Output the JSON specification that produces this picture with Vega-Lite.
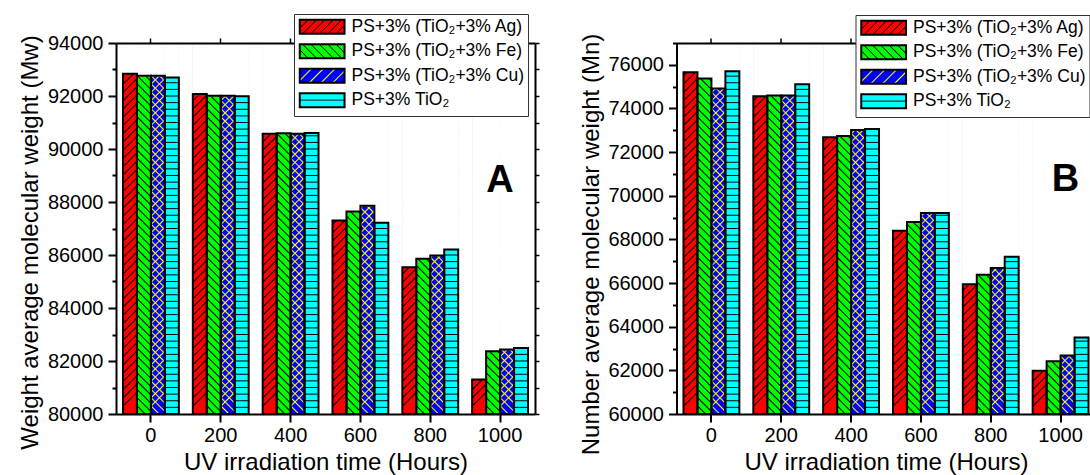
{
  "$schema": "https://vega.github.io/schema/vega-lite/v6.json",
  "background": "#ffffff",
  "padding": {"left": 18, "top": 13, "right": 0, "bottom": 0},
  "config": {
    "view": {"stroke": null},
    "font": "Liberation Sans",
    "text": {"font": "Liberation Sans"},
    "axis": {
      "grid": false, "domainColor": "#000000", "domainWidth": 2, "tickColor": "#000000", "tickWidth": 2,
      "labelColor": "#000000", "labelFont": "Liberation Sans", "labelFontSize": 20,
      "titleColor": "#000000", "titleFont": "Liberation Sans", "titleFontSize": 24, "titleFontWeight": "normal",
      "zindex": 1, "labelFlush": false, "labelOverlap": false
    }
  },
  "params": [
    {"name": "gAg", "value": {"gradient": "linear", "x1": 0, "y1": 0, "x2": 0.0377, "y2": 1, "stops": [
      {"offset":0,"color":"#000"},{"offset":0.004,"color":"#f00"},{"offset":0.0182,"color":"#f00"},
      {"offset":0.0222,"color":"#000"},{"offset":0.0262,"color":"#f00"},{"offset":0.0404,"color":"#f00"},
      {"offset":0.0444,"color":"#000"},{"offset":0.0484,"color":"#f00"},{"offset":0.0627,"color":"#f00"},
      {"offset":0.0667,"color":"#000"},{"offset":0.0707,"color":"#f00"},{"offset":0.0849,"color":"#f00"},
      {"offset":0.0889,"color":"#000"},{"offset":0.0929,"color":"#f00"},{"offset":0.1071,"color":"#f00"},
      {"offset":0.1111,"color":"#000"},{"offset":0.1151,"color":"#f00"},{"offset":0.1293,"color":"#f00"},
      {"offset":0.1333,"color":"#000"},{"offset":0.1373,"color":"#f00"},{"offset":0.1516,"color":"#f00"},
      {"offset":0.1556,"color":"#000"},{"offset":0.1596,"color":"#f00"},{"offset":0.1738,"color":"#f00"},
      {"offset":0.1778,"color":"#000"},{"offset":0.1818,"color":"#f00"},{"offset":0.196,"color":"#f00"},
      {"offset":0.2,"color":"#000"},{"offset":0.204,"color":"#f00"},{"offset":0.2182,"color":"#f00"},
      {"offset":0.2222,"color":"#000"},{"offset":0.2262,"color":"#f00"},{"offset":0.2404,"color":"#f00"},
      {"offset":0.2444,"color":"#000"},{"offset":0.2484,"color":"#f00"},{"offset":0.2627,"color":"#f00"},
      {"offset":0.2667,"color":"#000"},{"offset":0.2707,"color":"#f00"},{"offset":0.2849,"color":"#f00"},
      {"offset":0.2889,"color":"#000"},{"offset":0.2929,"color":"#f00"},{"offset":0.3071,"color":"#f00"},
      {"offset":0.3111,"color":"#000"},{"offset":0.3151,"color":"#f00"},{"offset":0.3293,"color":"#f00"},
      {"offset":0.3333,"color":"#000"},{"offset":0.3373,"color":"#f00"},{"offset":0.3516,"color":"#f00"},
      {"offset":0.3556,"color":"#000"},{"offset":0.3596,"color":"#f00"},{"offset":0.3738,"color":"#f00"},
      {"offset":0.3778,"color":"#000"},{"offset":0.3818,"color":"#f00"},{"offset":0.396,"color":"#f00"},
      {"offset":0.4,"color":"#000"},{"offset":0.404,"color":"#f00"},{"offset":0.4182,"color":"#f00"},
      {"offset":0.4222,"color":"#000"},{"offset":0.4262,"color":"#f00"},{"offset":0.4404,"color":"#f00"},
      {"offset":0.4444,"color":"#000"},{"offset":0.4484,"color":"#f00"},{"offset":0.4627,"color":"#f00"},
      {"offset":0.4667,"color":"#000"},{"offset":0.4707,"color":"#f00"},{"offset":0.4849,"color":"#f00"},
      {"offset":0.4889,"color":"#000"},{"offset":0.4929,"color":"#f00"},{"offset":0.5071,"color":"#f00"},
      {"offset":0.5111,"color":"#000"},{"offset":0.5151,"color":"#f00"},{"offset":0.5293,"color":"#f00"},
      {"offset":0.5333,"color":"#000"},{"offset":0.5373,"color":"#f00"},{"offset":0.5516,"color":"#f00"},
      {"offset":0.5556,"color":"#000"},{"offset":0.5596,"color":"#f00"},{"offset":0.5738,"color":"#f00"},
      {"offset":0.5778,"color":"#000"},{"offset":0.5818,"color":"#f00"},{"offset":0.596,"color":"#f00"},
      {"offset":0.6,"color":"#000"},{"offset":0.604,"color":"#f00"},{"offset":0.6182,"color":"#f00"},
      {"offset":0.6222,"color":"#000"},{"offset":0.6262,"color":"#f00"},{"offset":0.6404,"color":"#f00"},
      {"offset":0.6444,"color":"#000"},{"offset":0.6484,"color":"#f00"},{"offset":0.6627,"color":"#f00"},
      {"offset":0.6667,"color":"#000"},{"offset":0.6707,"color":"#f00"},{"offset":0.6849,"color":"#f00"},
      {"offset":0.6889,"color":"#000"},{"offset":0.6929,"color":"#f00"},{"offset":0.7071,"color":"#f00"},
      {"offset":0.7111,"color":"#000"},{"offset":0.7151,"color":"#f00"},{"offset":0.7293,"color":"#f00"},
      {"offset":0.7333,"color":"#000"},{"offset":0.7373,"color":"#f00"},{"offset":0.7516,"color":"#f00"},
      {"offset":0.7556,"color":"#000"},{"offset":0.7596,"color":"#f00"},{"offset":0.7738,"color":"#f00"},
      {"offset":0.7778,"color":"#000"},{"offset":0.7818,"color":"#f00"},{"offset":0.796,"color":"#f00"},
      {"offset":0.8,"color":"#000"},{"offset":0.804,"color":"#f00"},{"offset":0.8182,"color":"#f00"},
      {"offset":0.8222,"color":"#000"},{"offset":0.8262,"color":"#f00"},{"offset":0.8404,"color":"#f00"},
      {"offset":0.8444,"color":"#000"},{"offset":0.8484,"color":"#f00"},{"offset":0.8627,"color":"#f00"},
      {"offset":0.8667,"color":"#000"},{"offset":0.8707,"color":"#f00"},{"offset":0.8849,"color":"#f00"},
      {"offset":0.8889,"color":"#000"},{"offset":0.8929,"color":"#f00"},{"offset":0.9071,"color":"#f00"},
      {"offset":0.9111,"color":"#000"},{"offset":0.9151,"color":"#f00"},{"offset":0.9293,"color":"#f00"},
      {"offset":0.9333,"color":"#000"},{"offset":0.9373,"color":"#f00"},{"offset":0.9516,"color":"#f00"},
      {"offset":0.9556,"color":"#000"},{"offset":0.9596,"color":"#f00"},{"offset":0.9738,"color":"#f00"},
      {"offset":0.9778,"color":"#000"},{"offset":0.9818,"color":"#f00"},{"offset":1,"color":"#f00"}]}},
    {"name": "gFe", "value": {"gradient": "linear", "x1": 0, "y1": 1, "x2": 0.0377, "y2": 0, "stops": [
      {"offset":0,"color":"#000"},{"offset":0.004,"color":"#0f0"},{"offset":0.0182,"color":"#0f0"},
      {"offset":0.0222,"color":"#000"},{"offset":0.0262,"color":"#0f0"},{"offset":0.0404,"color":"#0f0"},
      {"offset":0.0444,"color":"#000"},{"offset":0.0484,"color":"#0f0"},{"offset":0.0627,"color":"#0f0"},
      {"offset":0.0667,"color":"#000"},{"offset":0.0707,"color":"#0f0"},{"offset":0.0849,"color":"#0f0"},
      {"offset":0.0889,"color":"#000"},{"offset":0.0929,"color":"#0f0"},{"offset":0.1071,"color":"#0f0"},
      {"offset":0.1111,"color":"#000"},{"offset":0.1151,"color":"#0f0"},{"offset":0.1293,"color":"#0f0"},
      {"offset":0.1333,"color":"#000"},{"offset":0.1373,"color":"#0f0"},{"offset":0.1516,"color":"#0f0"},
      {"offset":0.1556,"color":"#000"},{"offset":0.1596,"color":"#0f0"},{"offset":0.1738,"color":"#0f0"},
      {"offset":0.1778,"color":"#000"},{"offset":0.1818,"color":"#0f0"},{"offset":0.196,"color":"#0f0"},
      {"offset":0.2,"color":"#000"},{"offset":0.204,"color":"#0f0"},{"offset":0.2182,"color":"#0f0"},
      {"offset":0.2222,"color":"#000"},{"offset":0.2262,"color":"#0f0"},{"offset":0.2404,"color":"#0f0"},
      {"offset":0.2444,"color":"#000"},{"offset":0.2484,"color":"#0f0"},{"offset":0.2627,"color":"#0f0"},
      {"offset":0.2667,"color":"#000"},{"offset":0.2707,"color":"#0f0"},{"offset":0.2849,"color":"#0f0"},
      {"offset":0.2889,"color":"#000"},{"offset":0.2929,"color":"#0f0"},{"offset":0.3071,"color":"#0f0"},
      {"offset":0.3111,"color":"#000"},{"offset":0.3151,"color":"#0f0"},{"offset":0.3293,"color":"#0f0"},
      {"offset":0.3333,"color":"#000"},{"offset":0.3373,"color":"#0f0"},{"offset":0.3516,"color":"#0f0"},
      {"offset":0.3556,"color":"#000"},{"offset":0.3596,"color":"#0f0"},{"offset":0.3738,"color":"#0f0"},
      {"offset":0.3778,"color":"#000"},{"offset":0.3818,"color":"#0f0"},{"offset":0.396,"color":"#0f0"},
      {"offset":0.4,"color":"#000"},{"offset":0.404,"color":"#0f0"},{"offset":0.4182,"color":"#0f0"},
      {"offset":0.4222,"color":"#000"},{"offset":0.4262,"color":"#0f0"},{"offset":0.4404,"color":"#0f0"},
      {"offset":0.4444,"color":"#000"},{"offset":0.4484,"color":"#0f0"},{"offset":0.4627,"color":"#0f0"},
      {"offset":0.4667,"color":"#000"},{"offset":0.4707,"color":"#0f0"},{"offset":0.4849,"color":"#0f0"},
      {"offset":0.4889,"color":"#000"},{"offset":0.4929,"color":"#0f0"},{"offset":0.5071,"color":"#0f0"},
      {"offset":0.5111,"color":"#000"},{"offset":0.5151,"color":"#0f0"},{"offset":0.5293,"color":"#0f0"},
      {"offset":0.5333,"color":"#000"},{"offset":0.5373,"color":"#0f0"},{"offset":0.5516,"color":"#0f0"},
      {"offset":0.5556,"color":"#000"},{"offset":0.5596,"color":"#0f0"},{"offset":0.5738,"color":"#0f0"},
      {"offset":0.5778,"color":"#000"},{"offset":0.5818,"color":"#0f0"},{"offset":0.596,"color":"#0f0"},
      {"offset":0.6,"color":"#000"},{"offset":0.604,"color":"#0f0"},{"offset":0.6182,"color":"#0f0"},
      {"offset":0.6222,"color":"#000"},{"offset":0.6262,"color":"#0f0"},{"offset":0.6404,"color":"#0f0"},
      {"offset":0.6444,"color":"#000"},{"offset":0.6484,"color":"#0f0"},{"offset":0.6627,"color":"#0f0"},
      {"offset":0.6667,"color":"#000"},{"offset":0.6707,"color":"#0f0"},{"offset":0.6849,"color":"#0f0"},
      {"offset":0.6889,"color":"#000"},{"offset":0.6929,"color":"#0f0"},{"offset":0.7071,"color":"#0f0"},
      {"offset":0.7111,"color":"#000"},{"offset":0.7151,"color":"#0f0"},{"offset":0.7293,"color":"#0f0"},
      {"offset":0.7333,"color":"#000"},{"offset":0.7373,"color":"#0f0"},{"offset":0.7516,"color":"#0f0"},
      {"offset":0.7556,"color":"#000"},{"offset":0.7596,"color":"#0f0"},{"offset":0.7738,"color":"#0f0"},
      {"offset":0.7778,"color":"#000"},{"offset":0.7818,"color":"#0f0"},{"offset":0.796,"color":"#0f0"},
      {"offset":0.8,"color":"#000"},{"offset":0.804,"color":"#0f0"},{"offset":0.8182,"color":"#0f0"},
      {"offset":0.8222,"color":"#000"},{"offset":0.8262,"color":"#0f0"},{"offset":0.8404,"color":"#0f0"},
      {"offset":0.8444,"color":"#000"},{"offset":0.8484,"color":"#0f0"},{"offset":0.8627,"color":"#0f0"},
      {"offset":0.8667,"color":"#000"},{"offset":0.8707,"color":"#0f0"},{"offset":0.8849,"color":"#0f0"},
      {"offset":0.8889,"color":"#000"},{"offset":0.8929,"color":"#0f0"},{"offset":0.9071,"color":"#0f0"},
      {"offset":0.9111,"color":"#000"},{"offset":0.9151,"color":"#0f0"},{"offset":0.9293,"color":"#0f0"},
      {"offset":0.9333,"color":"#000"},{"offset":0.9373,"color":"#0f0"},{"offset":0.9516,"color":"#0f0"},
      {"offset":0.9556,"color":"#000"},{"offset":0.9596,"color":"#0f0"},{"offset":0.9738,"color":"#0f0"},
      {"offset":0.9778,"color":"#000"},{"offset":0.9818,"color":"#0f0"},{"offset":1,"color":"#0f0"}]}},
    {"name": "gCu", "value": {"gradient": "linear", "x1": 0, "y1": 0, "x2": 0.0377, "y2": 1, "stops": [
      {"offset":0,"color":"#ff0"},{"offset":0.004,"color":"#00f"},{"offset":0.0182,"color":"#00f"},
      {"offset":0.0222,"color":"#ff0"},{"offset":0.0262,"color":"#00f"},{"offset":0.0404,"color":"#00f"},
      {"offset":0.0444,"color":"#ff0"},{"offset":0.0484,"color":"#00f"},{"offset":0.0627,"color":"#00f"},
      {"offset":0.0667,"color":"#ff0"},{"offset":0.0707,"color":"#00f"},{"offset":0.0849,"color":"#00f"},
      {"offset":0.0889,"color":"#ff0"},{"offset":0.0929,"color":"#00f"},{"offset":0.1071,"color":"#00f"},
      {"offset":0.1111,"color":"#ff0"},{"offset":0.1151,"color":"#00f"},{"offset":0.1293,"color":"#00f"},
      {"offset":0.1333,"color":"#ff0"},{"offset":0.1373,"color":"#00f"},{"offset":0.1516,"color":"#00f"},
      {"offset":0.1556,"color":"#ff0"},{"offset":0.1596,"color":"#00f"},{"offset":0.1738,"color":"#00f"},
      {"offset":0.1778,"color":"#ff0"},{"offset":0.1818,"color":"#00f"},{"offset":0.196,"color":"#00f"},
      {"offset":0.2,"color":"#ff0"},{"offset":0.204,"color":"#00f"},{"offset":0.2182,"color":"#00f"},
      {"offset":0.2222,"color":"#ff0"},{"offset":0.2262,"color":"#00f"},{"offset":0.2404,"color":"#00f"},
      {"offset":0.2444,"color":"#ff0"},{"offset":0.2484,"color":"#00f"},{"offset":0.2627,"color":"#00f"},
      {"offset":0.2667,"color":"#ff0"},{"offset":0.2707,"color":"#00f"},{"offset":0.2849,"color":"#00f"},
      {"offset":0.2889,"color":"#ff0"},{"offset":0.2929,"color":"#00f"},{"offset":0.3071,"color":"#00f"},
      {"offset":0.3111,"color":"#ff0"},{"offset":0.3151,"color":"#00f"},{"offset":0.3293,"color":"#00f"},
      {"offset":0.3333,"color":"#ff0"},{"offset":0.3373,"color":"#00f"},{"offset":0.3516,"color":"#00f"},
      {"offset":0.3556,"color":"#ff0"},{"offset":0.3596,"color":"#00f"},{"offset":0.3738,"color":"#00f"},
      {"offset":0.3778,"color":"#ff0"},{"offset":0.3818,"color":"#00f"},{"offset":0.396,"color":"#00f"},
      {"offset":0.4,"color":"#ff0"},{"offset":0.404,"color":"#00f"},{"offset":0.4182,"color":"#00f"},
      {"offset":0.4222,"color":"#ff0"},{"offset":0.4262,"color":"#00f"},{"offset":0.4404,"color":"#00f"},
      {"offset":0.4444,"color":"#ff0"},{"offset":0.4484,"color":"#00f"},{"offset":0.4627,"color":"#00f"},
      {"offset":0.4667,"color":"#ff0"},{"offset":0.4707,"color":"#00f"},{"offset":0.4849,"color":"#00f"},
      {"offset":0.4889,"color":"#ff0"},{"offset":0.4929,"color":"#00f"},{"offset":0.5071,"color":"#00f"},
      {"offset":0.5111,"color":"#ff0"},{"offset":0.5151,"color":"#00f"},{"offset":0.5293,"color":"#00f"},
      {"offset":0.5333,"color":"#ff0"},{"offset":0.5373,"color":"#00f"},{"offset":0.5516,"color":"#00f"},
      {"offset":0.5556,"color":"#ff0"},{"offset":0.5596,"color":"#00f"},{"offset":0.5738,"color":"#00f"},
      {"offset":0.5778,"color":"#ff0"},{"offset":0.5818,"color":"#00f"},{"offset":0.596,"color":"#00f"},
      {"offset":0.6,"color":"#ff0"},{"offset":0.604,"color":"#00f"},{"offset":0.6182,"color":"#00f"},
      {"offset":0.6222,"color":"#ff0"},{"offset":0.6262,"color":"#00f"},{"offset":0.6404,"color":"#00f"},
      {"offset":0.6444,"color":"#ff0"},{"offset":0.6484,"color":"#00f"},{"offset":0.6627,"color":"#00f"},
      {"offset":0.6667,"color":"#ff0"},{"offset":0.6707,"color":"#00f"},{"offset":0.6849,"color":"#00f"},
      {"offset":0.6889,"color":"#ff0"},{"offset":0.6929,"color":"#00f"},{"offset":0.7071,"color":"#00f"},
      {"offset":0.7111,"color":"#ff0"},{"offset":0.7151,"color":"#00f"},{"offset":0.7293,"color":"#00f"},
      {"offset":0.7333,"color":"#ff0"},{"offset":0.7373,"color":"#00f"},{"offset":0.7516,"color":"#00f"},
      {"offset":0.7556,"color":"#ff0"},{"offset":0.7596,"color":"#00f"},{"offset":0.7738,"color":"#00f"},
      {"offset":0.7778,"color":"#ff0"},{"offset":0.7818,"color":"#00f"},{"offset":0.796,"color":"#00f"},
      {"offset":0.8,"color":"#ff0"},{"offset":0.804,"color":"#00f"},{"offset":0.8182,"color":"#00f"},
      {"offset":0.8222,"color":"#ff0"},{"offset":0.8262,"color":"#00f"},{"offset":0.8404,"color":"#00f"},
      {"offset":0.8444,"color":"#ff0"},{"offset":0.8484,"color":"#00f"},{"offset":0.8627,"color":"#00f"},
      {"offset":0.8667,"color":"#ff0"},{"offset":0.8707,"color":"#00f"},{"offset":0.8849,"color":"#00f"},
      {"offset":0.8889,"color":"#ff0"},{"offset":0.8929,"color":"#00f"},{"offset":0.9071,"color":"#00f"},
      {"offset":0.9111,"color":"#ff0"},{"offset":0.9151,"color":"#00f"},{"offset":0.9293,"color":"#00f"},
      {"offset":0.9333,"color":"#ff0"},{"offset":0.9373,"color":"#00f"},{"offset":0.9516,"color":"#00f"},
      {"offset":0.9556,"color":"#ff0"},{"offset":0.9596,"color":"#00f"},{"offset":0.9738,"color":"#00f"},
      {"offset":0.9778,"color":"#ff0"},{"offset":0.9818,"color":"#00f"},{"offset":1,"color":"#00f"}]}},
    {"name": "gCux", "value": {"gradient": "linear", "x1": 0, "y1": 1, "x2": 0.0377, "y2": 0, "stops": [
      {"offset":0,"color":"#ff0"},{"offset":0.004,"color":"rgba(255,255,0,0)"},{"offset":0.0182,"color":"rgba(255,255,0,0)"},
      {"offset":0.0222,"color":"#ff0"},{"offset":0.0262,"color":"rgba(255,255,0,0)"},{"offset":0.0404,"color":"rgba(255,255,0,0)"},
      {"offset":0.0444,"color":"#ff0"},{"offset":0.0484,"color":"rgba(255,255,0,0)"},{"offset":0.0627,"color":"rgba(255,255,0,0)"},
      {"offset":0.0667,"color":"#ff0"},{"offset":0.0707,"color":"rgba(255,255,0,0)"},{"offset":0.0849,"color":"rgba(255,255,0,0)"},
      {"offset":0.0889,"color":"#ff0"},{"offset":0.0929,"color":"rgba(255,255,0,0)"},{"offset":0.1071,"color":"rgba(255,255,0,0)"},
      {"offset":0.1111,"color":"#ff0"},{"offset":0.1151,"color":"rgba(255,255,0,0)"},{"offset":0.1293,"color":"rgba(255,255,0,0)"},
      {"offset":0.1333,"color":"#ff0"},{"offset":0.1373,"color":"rgba(255,255,0,0)"},{"offset":0.1516,"color":"rgba(255,255,0,0)"},
      {"offset":0.1556,"color":"#ff0"},{"offset":0.1596,"color":"rgba(255,255,0,0)"},{"offset":0.1738,"color":"rgba(255,255,0,0)"},
      {"offset":0.1778,"color":"#ff0"},{"offset":0.1818,"color":"rgba(255,255,0,0)"},{"offset":0.196,"color":"rgba(255,255,0,0)"},
      {"offset":0.2,"color":"#ff0"},{"offset":0.204,"color":"rgba(255,255,0,0)"},{"offset":0.2182,"color":"rgba(255,255,0,0)"},
      {"offset":0.2222,"color":"#ff0"},{"offset":0.2262,"color":"rgba(255,255,0,0)"},{"offset":0.2404,"color":"rgba(255,255,0,0)"},
      {"offset":0.2444,"color":"#ff0"},{"offset":0.2484,"color":"rgba(255,255,0,0)"},{"offset":0.2627,"color":"rgba(255,255,0,0)"},
      {"offset":0.2667,"color":"#ff0"},{"offset":0.2707,"color":"rgba(255,255,0,0)"},{"offset":0.2849,"color":"rgba(255,255,0,0)"},
      {"offset":0.2889,"color":"#ff0"},{"offset":0.2929,"color":"rgba(255,255,0,0)"},{"offset":0.3071,"color":"rgba(255,255,0,0)"},
      {"offset":0.3111,"color":"#ff0"},{"offset":0.3151,"color":"rgba(255,255,0,0)"},{"offset":0.3293,"color":"rgba(255,255,0,0)"},
      {"offset":0.3333,"color":"#ff0"},{"offset":0.3373,"color":"rgba(255,255,0,0)"},{"offset":0.3516,"color":"rgba(255,255,0,0)"},
      {"offset":0.3556,"color":"#ff0"},{"offset":0.3596,"color":"rgba(255,255,0,0)"},{"offset":0.3738,"color":"rgba(255,255,0,0)"},
      {"offset":0.3778,"color":"#ff0"},{"offset":0.3818,"color":"rgba(255,255,0,0)"},{"offset":0.396,"color":"rgba(255,255,0,0)"},
      {"offset":0.4,"color":"#ff0"},{"offset":0.404,"color":"rgba(255,255,0,0)"},{"offset":0.4182,"color":"rgba(255,255,0,0)"},
      {"offset":0.4222,"color":"#ff0"},{"offset":0.4262,"color":"rgba(255,255,0,0)"},{"offset":0.4404,"color":"rgba(255,255,0,0)"},
      {"offset":0.4444,"color":"#ff0"},{"offset":0.4484,"color":"rgba(255,255,0,0)"},{"offset":0.4627,"color":"rgba(255,255,0,0)"},
      {"offset":0.4667,"color":"#ff0"},{"offset":0.4707,"color":"rgba(255,255,0,0)"},{"offset":0.4849,"color":"rgba(255,255,0,0)"},
      {"offset":0.4889,"color":"#ff0"},{"offset":0.4929,"color":"rgba(255,255,0,0)"},{"offset":0.5071,"color":"rgba(255,255,0,0)"},
      {"offset":0.5111,"color":"#ff0"},{"offset":0.5151,"color":"rgba(255,255,0,0)"},{"offset":0.5293,"color":"rgba(255,255,0,0)"},
      {"offset":0.5333,"color":"#ff0"},{"offset":0.5373,"color":"rgba(255,255,0,0)"},{"offset":0.5516,"color":"rgba(255,255,0,0)"},
      {"offset":0.5556,"color":"#ff0"},{"offset":0.5596,"color":"rgba(255,255,0,0)"},{"offset":0.5738,"color":"rgba(255,255,0,0)"},
      {"offset":0.5778,"color":"#ff0"},{"offset":0.5818,"color":"rgba(255,255,0,0)"},{"offset":0.596,"color":"rgba(255,255,0,0)"},
      {"offset":0.6,"color":"#ff0"},{"offset":0.604,"color":"rgba(255,255,0,0)"},{"offset":0.6182,"color":"rgba(255,255,0,0)"},
      {"offset":0.6222,"color":"#ff0"},{"offset":0.6262,"color":"rgba(255,255,0,0)"},{"offset":0.6404,"color":"rgba(255,255,0,0)"},
      {"offset":0.6444,"color":"#ff0"},{"offset":0.6484,"color":"rgba(255,255,0,0)"},{"offset":0.6627,"color":"rgba(255,255,0,0)"},
      {"offset":0.6667,"color":"#ff0"},{"offset":0.6707,"color":"rgba(255,255,0,0)"},{"offset":0.6849,"color":"rgba(255,255,0,0)"},
      {"offset":0.6889,"color":"#ff0"},{"offset":0.6929,"color":"rgba(255,255,0,0)"},{"offset":0.7071,"color":"rgba(255,255,0,0)"},
      {"offset":0.7111,"color":"#ff0"},{"offset":0.7151,"color":"rgba(255,255,0,0)"},{"offset":0.7293,"color":"rgba(255,255,0,0)"},
      {"offset":0.7333,"color":"#ff0"},{"offset":0.7373,"color":"rgba(255,255,0,0)"},{"offset":0.7516,"color":"rgba(255,255,0,0)"},
      {"offset":0.7556,"color":"#ff0"},{"offset":0.7596,"color":"rgba(255,255,0,0)"},{"offset":0.7738,"color":"rgba(255,255,0,0)"},
      {"offset":0.7778,"color":"#ff0"},{"offset":0.7818,"color":"rgba(255,255,0,0)"},{"offset":0.796,"color":"rgba(255,255,0,0)"},
      {"offset":0.8,"color":"#ff0"},{"offset":0.804,"color":"rgba(255,255,0,0)"},{"offset":0.8182,"color":"rgba(255,255,0,0)"},
      {"offset":0.8222,"color":"#ff0"},{"offset":0.8262,"color":"rgba(255,255,0,0)"},{"offset":0.8404,"color":"rgba(255,255,0,0)"},
      {"offset":0.8444,"color":"#ff0"},{"offset":0.8484,"color":"rgba(255,255,0,0)"},{"offset":0.8627,"color":"rgba(255,255,0,0)"},
      {"offset":0.8667,"color":"#ff0"},{"offset":0.8707,"color":"rgba(255,255,0,0)"},{"offset":0.8849,"color":"rgba(255,255,0,0)"},
      {"offset":0.8889,"color":"#ff0"},{"offset":0.8929,"color":"rgba(255,255,0,0)"},{"offset":0.9071,"color":"rgba(255,255,0,0)"},
      {"offset":0.9111,"color":"#ff0"},{"offset":0.9151,"color":"rgba(255,255,0,0)"},{"offset":0.9293,"color":"rgba(255,255,0,0)"},
      {"offset":0.9333,"color":"#ff0"},{"offset":0.9373,"color":"rgba(255,255,0,0)"},{"offset":0.9516,"color":"rgba(255,255,0,0)"},
      {"offset":0.9556,"color":"#ff0"},{"offset":0.9596,"color":"rgba(255,255,0,0)"},{"offset":0.9738,"color":"rgba(255,255,0,0)"},
      {"offset":0.9778,"color":"#ff0"},{"offset":0.9818,"color":"rgba(255,255,0,0)"},{"offset":1,"color":"rgba(255,255,0,0)"}]}},
    {"name": "gTi", "value": {"gradient": "linear", "x1": 0, "y1": 0, "x2": 0, "y2": 1, "stops": [
      {"offset":0,"color":"#000"},{"offset":0.0027,"color":"#0ff"},{"offset":0.0152,"color":"#0ff"},
      {"offset":0.0179,"color":"#000"},{"offset":0.0206,"color":"#0ff"},{"offset":0.033,"color":"#0ff"},
      {"offset":0.0357,"color":"#000"},{"offset":0.0384,"color":"#0ff"},{"offset":0.0509,"color":"#0ff"},
      {"offset":0.0536,"color":"#000"},{"offset":0.0563,"color":"#0ff"},{"offset":0.0687,"color":"#0ff"},
      {"offset":0.0714,"color":"#000"},{"offset":0.0741,"color":"#0ff"},{"offset":0.0866,"color":"#0ff"},
      {"offset":0.0893,"color":"#000"},{"offset":0.092,"color":"#0ff"},{"offset":0.1044,"color":"#0ff"},
      {"offset":0.1071,"color":"#000"},{"offset":0.1098,"color":"#0ff"},{"offset":0.1223,"color":"#0ff"},
      {"offset":0.125,"color":"#000"},{"offset":0.1277,"color":"#0ff"},{"offset":0.1402,"color":"#0ff"},
      {"offset":0.1429,"color":"#000"},{"offset":0.1456,"color":"#0ff"},{"offset":0.158,"color":"#0ff"},
      {"offset":0.1607,"color":"#000"},{"offset":0.1634,"color":"#0ff"},{"offset":0.1759,"color":"#0ff"},
      {"offset":0.1786,"color":"#000"},{"offset":0.1813,"color":"#0ff"},{"offset":0.1937,"color":"#0ff"},
      {"offset":0.1964,"color":"#000"},{"offset":0.1991,"color":"#0ff"},{"offset":0.2116,"color":"#0ff"},
      {"offset":0.2143,"color":"#000"},{"offset":0.217,"color":"#0ff"},{"offset":0.2294,"color":"#0ff"},
      {"offset":0.2321,"color":"#000"},{"offset":0.2348,"color":"#0ff"},{"offset":0.2473,"color":"#0ff"},
      {"offset":0.25,"color":"#000"},{"offset":0.2527,"color":"#0ff"},{"offset":0.2652,"color":"#0ff"},
      {"offset":0.2679,"color":"#000"},{"offset":0.2706,"color":"#0ff"},{"offset":0.283,"color":"#0ff"},
      {"offset":0.2857,"color":"#000"},{"offset":0.2884,"color":"#0ff"},{"offset":0.3009,"color":"#0ff"},
      {"offset":0.3036,"color":"#000"},{"offset":0.3063,"color":"#0ff"},{"offset":0.3187,"color":"#0ff"},
      {"offset":0.3214,"color":"#000"},{"offset":0.3241,"color":"#0ff"},{"offset":0.3366,"color":"#0ff"},
      {"offset":0.3393,"color":"#000"},{"offset":0.342,"color":"#0ff"},{"offset":0.3544,"color":"#0ff"},
      {"offset":0.3571,"color":"#000"},{"offset":0.3598,"color":"#0ff"},{"offset":0.3723,"color":"#0ff"},
      {"offset":0.375,"color":"#000"},{"offset":0.3777,"color":"#0ff"},{"offset":0.3902,"color":"#0ff"},
      {"offset":0.3929,"color":"#000"},{"offset":0.3956,"color":"#0ff"},{"offset":0.408,"color":"#0ff"},
      {"offset":0.4107,"color":"#000"},{"offset":0.4134,"color":"#0ff"},{"offset":0.4259,"color":"#0ff"},
      {"offset":0.4286,"color":"#000"},{"offset":0.4313,"color":"#0ff"},{"offset":0.4437,"color":"#0ff"},
      {"offset":0.4464,"color":"#000"},{"offset":0.4491,"color":"#0ff"},{"offset":0.4616,"color":"#0ff"},
      {"offset":0.4643,"color":"#000"},{"offset":0.467,"color":"#0ff"},{"offset":0.4794,"color":"#0ff"},
      {"offset":0.4821,"color":"#000"},{"offset":0.4848,"color":"#0ff"},{"offset":0.4973,"color":"#0ff"},
      {"offset":0.5,"color":"#000"},{"offset":0.5027,"color":"#0ff"},{"offset":0.5152,"color":"#0ff"},
      {"offset":0.5179,"color":"#000"},{"offset":0.5206,"color":"#0ff"},{"offset":0.533,"color":"#0ff"},
      {"offset":0.5357,"color":"#000"},{"offset":0.5384,"color":"#0ff"},{"offset":0.5509,"color":"#0ff"},
      {"offset":0.5536,"color":"#000"},{"offset":0.5563,"color":"#0ff"},{"offset":0.5687,"color":"#0ff"},
      {"offset":0.5714,"color":"#000"},{"offset":0.5741,"color":"#0ff"},{"offset":0.5866,"color":"#0ff"},
      {"offset":0.5893,"color":"#000"},{"offset":0.592,"color":"#0ff"},{"offset":0.6044,"color":"#0ff"},
      {"offset":0.6071,"color":"#000"},{"offset":0.6098,"color":"#0ff"},{"offset":0.6223,"color":"#0ff"},
      {"offset":0.625,"color":"#000"},{"offset":0.6277,"color":"#0ff"},{"offset":0.6402,"color":"#0ff"},
      {"offset":0.6429,"color":"#000"},{"offset":0.6456,"color":"#0ff"},{"offset":0.658,"color":"#0ff"},
      {"offset":0.6607,"color":"#000"},{"offset":0.6634,"color":"#0ff"},{"offset":0.6759,"color":"#0ff"},
      {"offset":0.6786,"color":"#000"},{"offset":0.6813,"color":"#0ff"},{"offset":0.6937,"color":"#0ff"},
      {"offset":0.6964,"color":"#000"},{"offset":0.6991,"color":"#0ff"},{"offset":0.7116,"color":"#0ff"},
      {"offset":0.7143,"color":"#000"},{"offset":0.717,"color":"#0ff"},{"offset":0.7294,"color":"#0ff"},
      {"offset":0.7321,"color":"#000"},{"offset":0.7348,"color":"#0ff"},{"offset":0.7473,"color":"#0ff"},
      {"offset":0.75,"color":"#000"},{"offset":0.7527,"color":"#0ff"},{"offset":0.7652,"color":"#0ff"},
      {"offset":0.7679,"color":"#000"},{"offset":0.7706,"color":"#0ff"},{"offset":0.783,"color":"#0ff"},
      {"offset":0.7857,"color":"#000"},{"offset":0.7884,"color":"#0ff"},{"offset":0.8009,"color":"#0ff"},
      {"offset":0.8036,"color":"#000"},{"offset":0.8063,"color":"#0ff"},{"offset":0.8187,"color":"#0ff"},
      {"offset":0.8214,"color":"#000"},{"offset":0.8241,"color":"#0ff"},{"offset":0.8366,"color":"#0ff"},
      {"offset":0.8393,"color":"#000"},{"offset":0.842,"color":"#0ff"},{"offset":0.8544,"color":"#0ff"},
      {"offset":0.8571,"color":"#000"},{"offset":0.8598,"color":"#0ff"},{"offset":0.8723,"color":"#0ff"},
      {"offset":0.875,"color":"#000"},{"offset":0.8777,"color":"#0ff"},{"offset":0.8902,"color":"#0ff"},
      {"offset":0.8929,"color":"#000"},{"offset":0.8956,"color":"#0ff"},{"offset":0.908,"color":"#0ff"},
      {"offset":0.9107,"color":"#000"},{"offset":0.9134,"color":"#0ff"},{"offset":0.9259,"color":"#0ff"},
      {"offset":0.9286,"color":"#000"},{"offset":0.9313,"color":"#0ff"},{"offset":0.9437,"color":"#0ff"},
      {"offset":0.9464,"color":"#000"},{"offset":0.9491,"color":"#0ff"},{"offset":0.9616,"color":"#0ff"},
      {"offset":0.9643,"color":"#000"},{"offset":0.967,"color":"#0ff"},{"offset":0.9794,"color":"#0ff"},
      {"offset":0.9821,"color":"#000"},{"offset":0.9848,"color":"#0ff"},{"offset":1,"color":"#0ff"}]}},
    {"name": "lAg", "value": {"gradient": "linear", "x1": 0, "y1": 0, "x2": 1.1955, "y2": 0.372, "stops": [
      {"offset":0,"color":"#000"},{"offset":0.02,"color":"#f00"},{"offset":0.1229,"color":"#f00"},
      {"offset":0.1429,"color":"#000"},{"offset":0.1629,"color":"#f00"},{"offset":0.2657,"color":"#f00"},
      {"offset":0.2857,"color":"#000"},{"offset":0.3057,"color":"#f00"},{"offset":0.4086,"color":"#f00"},
      {"offset":0.4286,"color":"#000"},{"offset":0.4486,"color":"#f00"},{"offset":0.5514,"color":"#f00"},
      {"offset":0.5714,"color":"#000"},{"offset":0.5914,"color":"#f00"},{"offset":0.6943,"color":"#f00"},
      {"offset":0.7143,"color":"#000"},{"offset":0.7343,"color":"#f00"},{"offset":0.8371,"color":"#f00"},
      {"offset":0.8571,"color":"#000"},{"offset":0.8771,"color":"#f00"},{"offset":0.98,"color":"#f00"},
      {"offset":1,"color":"#000"}]}},
    {"name": "lFe", "value": {"gradient": "linear", "x1": 0, "y1": 1, "x2": 1.1955, "y2": 0.628, "stops": [
      {"offset":0,"color":"#000"},{"offset":0.02,"color":"#0f0"},{"offset":0.1229,"color":"#0f0"},
      {"offset":0.1429,"color":"#000"},{"offset":0.1629,"color":"#0f0"},{"offset":0.2657,"color":"#0f0"},
      {"offset":0.2857,"color":"#000"},{"offset":0.3057,"color":"#0f0"},{"offset":0.4086,"color":"#0f0"},
      {"offset":0.4286,"color":"#000"},{"offset":0.4486,"color":"#0f0"},{"offset":0.5514,"color":"#0f0"},
      {"offset":0.5714,"color":"#000"},{"offset":0.5914,"color":"#0f0"},{"offset":0.6943,"color":"#0f0"},
      {"offset":0.7143,"color":"#000"},{"offset":0.7343,"color":"#0f0"},{"offset":0.8371,"color":"#0f0"},
      {"offset":0.8571,"color":"#000"},{"offset":0.8771,"color":"#0f0"},{"offset":0.98,"color":"#0f0"},
      {"offset":1,"color":"#000"}]}},
    {"name": "lCu", "value": {"gradient": "linear", "x1": 0, "y1": 0, "x2": 1.1955, "y2": 0.372, "stops": [
      {"offset":0,"color":"#ff0"},{"offset":0.025,"color":"#00f"},{"offset":0.175,"color":"#00f"},
      {"offset":0.2,"color":"#ff0"},{"offset":0.225,"color":"#00f"},{"offset":0.375,"color":"#00f"},
      {"offset":0.4,"color":"#ff0"},{"offset":0.425,"color":"#00f"},{"offset":0.575,"color":"#00f"},
      {"offset":0.6,"color":"#ff0"},{"offset":0.625,"color":"#00f"},{"offset":0.775,"color":"#00f"},
      {"offset":0.8,"color":"#ff0"},{"offset":0.825,"color":"#00f"},{"offset":0.975,"color":"#00f"},
      {"offset":1,"color":"#ff0"}]}},
    {"name": "lTi", "value": {"gradient": "linear", "x1": 0, "y1": 0, "x2": 0, "y2": 1, "stops": [
      {"offset":0,"color":"#0ff"},{"offset":0.42,"color":"#0ff"},{"offset":0.46,"color":"#1a7070"},
      {"offset":0.54,"color":"#1a7070"},{"offset":0.58,"color":"#0ff"},{"offset":1,"color":"#0ff"}]}}
  ],
  "data": {"values": [
    {"hours": 0, "sample": "PS+3% (TiO₂+3% Ag)", "Mw": 92840, "Mn": 75660},
    {"hours": 0, "sample": "PS+3% (TiO₂+3% Fe)", "Mw": 92760, "Mn": 75370},
    {"hours": 0, "sample": "PS+3% (TiO₂+3% Cu)", "Mw": 92760, "Mn": 74910},
    {"hours": 0, "sample": "PS+3% TiO₂", "Mw": 92700, "Mn": 75710},
    {"hours": 200, "sample": "PS+3% (TiO₂+3% Ag)", "Mw": 92080, "Mn": 74560},
    {"hours": 200, "sample": "PS+3% (TiO₂+3% Fe)", "Mw": 92010, "Mn": 74590},
    {"hours": 200, "sample": "PS+3% (TiO₂+3% Cu)", "Mw": 92010, "Mn": 74590},
    {"hours": 200, "sample": "PS+3% TiO₂", "Mw": 91990, "Mn": 75110},
    {"hours": 400, "sample": "PS+3% (TiO₂+3% Ag)", "Mw": 90580, "Mn": 72680},
    {"hours": 400, "sample": "PS+3% (TiO₂+3% Fe)", "Mw": 90590, "Mn": 72740},
    {"hours": 400, "sample": "PS+3% (TiO₂+3% Cu)", "Mw": 90580, "Mn": 73010},
    {"hours": 400, "sample": "PS+3% TiO₂", "Mw": 90600, "Mn": 73060},
    {"hours": 600, "sample": "PS+3% (TiO₂+3% Ag)", "Mw": 87300, "Mn": 68400},
    {"hours": 600, "sample": "PS+3% (TiO₂+3% Fe)", "Mw": 87640, "Mn": 68800},
    {"hours": 600, "sample": "PS+3% (TiO₂+3% Cu)", "Mw": 87860, "Mn": 69210},
    {"hours": 600, "sample": "PS+3% TiO₂", "Mw": 87220, "Mn": 69210},
    {"hours": 800, "sample": "PS+3% (TiO₂+3% Ag)", "Mw": 85540, "Mn": 65950},
    {"hours": 800, "sample": "PS+3% (TiO₂+3% Fe)", "Mw": 85860, "Mn": 66380},
    {"hours": 800, "sample": "PS+3% (TiO₂+3% Cu)", "Mw": 85980, "Mn": 66690},
    {"hours": 800, "sample": "PS+3% TiO₂", "Mw": 86210, "Mn": 67210},
    {"hours": 1000, "sample": "PS+3% (TiO₂+3% Ag)", "Mw": 81300, "Mn": 61980},
    {"hours": 1000, "sample": "PS+3% (TiO₂+3% Fe)", "Mw": 82370, "Mn": 62420},
    {"hours": 1000, "sample": "PS+3% (TiO₂+3% Cu)", "Mw": 82430, "Mn": 62680},
    {"hours": 1000, "sample": "PS+3% TiO₂", "Mw": 82490, "Mn": 63510}
  ]},
  "spacing": 38.5,
  "resolve": {
    "scale": {"x": "independent", "xOffset": "independent", "y": "independent", "fill": "independent", "shape": "independent"},
    "legend": {"shape": "independent"}
  },
  "hconcat": [
    {
      "width": 419, "height": 371,
      "resolve": {"axis": {"x": "independent", "y": "independent"}},
      "layer": [
        {
          "transform": [{"filter": "indexof(datum.sample, 'Ag') >= 0"}],
          "mark": {"type": "bar", "fill": {"expr": "gAg"}},
          "encoding": {
            "x": {"field": "hours", "type": "ordinal", "scale": {"domain": [0, 200, 400, 600, 800, 1000], "paddingInner": 0, "paddingOuter": 0}, "axis": null},
            "xOffset": {"field": "sample", "type": "nominal", "scale": {"domain": ["PS+3% (TiO₂+3% Ag)", "PS+3% (TiO₂+3% Fe)", "PS+3% (TiO₂+3% Cu)", "PS+3% TiO₂"], "paddingInner": 0, "paddingOuter": 0.5}},
            "y": {"datum": 94000, "type": "quantitative", "scale": {"domain": [80000, 94000], "nice": false, "zero": false}, "axis": null},
            "y2": {"datum": 80000}
          }
        },
        {
          "transform": [{"filter": "indexof(datum.sample, 'Fe') >= 0"}],
          "mark": {"type": "bar", "fill": {"expr": "gFe"}},
          "encoding": {
            "x": {"field": "hours", "type": "ordinal", "scale": {"domain": [0, 200, 400, 600, 800, 1000], "paddingInner": 0, "paddingOuter": 0}, "axis": null},
            "xOffset": {"field": "sample", "type": "nominal", "scale": {"domain": ["PS+3% (TiO₂+3% Ag)", "PS+3% (TiO₂+3% Fe)", "PS+3% (TiO₂+3% Cu)", "PS+3% TiO₂"], "paddingInner": 0, "paddingOuter": 0.5}},
            "y": {"datum": 94000, "type": "quantitative", "scale": {"domain": [80000, 94000], "nice": false, "zero": false}, "axis": null},
            "y2": {"datum": 80000}
          }
        },
        {
          "transform": [{"filter": "indexof(datum.sample, 'Cu') >= 0"}],
          "mark": {"type": "bar", "fill": {"expr": "gCu"}},
          "encoding": {
            "x": {"field": "hours", "type": "ordinal", "scale": {"domain": [0, 200, 400, 600, 800, 1000], "paddingInner": 0, "paddingOuter": 0}, "axis": null},
            "xOffset": {"field": "sample", "type": "nominal", "scale": {"domain": ["PS+3% (TiO₂+3% Ag)", "PS+3% (TiO₂+3% Fe)", "PS+3% (TiO₂+3% Cu)", "PS+3% TiO₂"], "paddingInner": 0, "paddingOuter": 0.5}},
            "y": {"datum": 94000, "type": "quantitative", "scale": {"domain": [80000, 94000], "nice": false, "zero": false}, "axis": null},
            "y2": {"datum": 80000}
          }
        },
        {
          "transform": [{"filter": "indexof(datum.sample, 'Cu') >= 0"}],
          "mark": {"type": "bar", "fill": {"expr": "gCux"}},
          "encoding": {
            "x": {"field": "hours", "type": "ordinal", "scale": {"domain": [0, 200, 400, 600, 800, 1000], "paddingInner": 0, "paddingOuter": 0}, "axis": null},
            "xOffset": {"field": "sample", "type": "nominal", "scale": {"domain": ["PS+3% (TiO₂+3% Ag)", "PS+3% (TiO₂+3% Fe)", "PS+3% (TiO₂+3% Cu)", "PS+3% TiO₂"], "paddingInner": 0, "paddingOuter": 0.5}},
            "y": {"datum": 94000, "type": "quantitative", "scale": {"domain": [80000, 94000], "nice": false, "zero": false}, "axis": null},
            "y2": {"datum": 80000}
          }
        },
        {
          "transform": [{"filter": "indexof(datum.sample, '(') < 0"}],
          "mark": {"type": "bar", "fill": {"expr": "gTi"}},
          "encoding": {
            "x": {"field": "hours", "type": "ordinal", "scale": {"domain": [0, 200, 400, 600, 800, 1000], "paddingInner": 0, "paddingOuter": 0}, "axis": null},
            "xOffset": {"field": "sample", "type": "nominal", "scale": {"domain": ["PS+3% (TiO₂+3% Ag)", "PS+3% (TiO₂+3% Fe)", "PS+3% (TiO₂+3% Cu)", "PS+3% TiO₂"], "paddingInner": 0, "paddingOuter": 0.5}},
            "y": {"datum": 94000, "type": "quantitative", "scale": {"domain": [80000, 94000], "nice": false, "zero": false}, "axis": null},
            "y2": {"datum": 80000}
          }
        },
        {
          "mark": {"type": "bar", "fill": "#ffffff", "stroke": "#ffffff", "strokeWidth": 1},
          "encoding": {
            "x": {"field": "hours", "type": "ordinal", "scale": {"domain": [0, 200, 400, 600, 800, 1000], "paddingInner": 0, "paddingOuter": 0},
                  "axis": {"orient": "top", "labels": false, "tickSize": 5, "tickWidth": 1.5, "title": null, "zindex": 1}},
            "xOffset": {"field": "sample", "type": "nominal", "scale": {"domain": ["PS+3% (TiO₂+3% Ag)", "PS+3% (TiO₂+3% Fe)", "PS+3% (TiO₂+3% Cu)", "PS+3% TiO₂"], "paddingInner": 0, "paddingOuter": 0.5}},
            "y": {"field": "Mw", "type": "quantitative", "scale": {"domain": [80000, 94000], "nice": false, "zero": false},
                  "axis": {"orient": "right", "values": [80000, 81000, 82000, 83000, 84000, 85000, 86000, 87000, 88000, 89000, 90000, 91000, 92000, 93000, 94000], "labels": false, "tickSize": 4, "tickWidth": 1.5, "title": null, "zindex": 1}},
            "y2": {"datum": 94000}
          }
        },
        {
          "mark": {"type": "bar", "fill": "transparent", "stroke": "#000000", "strokeWidth": 2},
          "encoding": {
            "x": {"field": "hours", "type": "ordinal", "scale": {"domain": [0, 200, 400, 600, 800, 1000], "paddingInner": 0, "paddingOuter": 0},
                  "axis": {"orient": "bottom", "labelAngle": 0, "tickSize": 8, "labelPadding": 3, "title": "UV irradiation time (Hours)", "titleY": 55.7, "titleBaseline": "alphabetic", "zindex": 1}},
            "xOffset": {"field": "sample", "type": "nominal", "scale": {"domain": ["PS+3% (TiO₂+3% Ag)", "PS+3% (TiO₂+3% Fe)", "PS+3% (TiO₂+3% Cu)", "PS+3% TiO₂"], "paddingInner": 0, "paddingOuter": 0.5}},
            "y": {"field": "Mw", "type": "quantitative", "scale": {"domain": [80000, 94000], "nice": false, "zero": false},
                  "axis": {"orient": "left", "values": [80000, 81000, 82000, 83000, 84000, 85000, 86000, 87000, 88000, 89000, 90000, 91000, 92000, 93000, 94000], "format": "d",
                           "labelExpr": "datum.value % 2000 === 0 ? datum.label : ''",
                           "tickSize": {"condition": {"test": "datum.value % 2000 === 0", "value": 8}, "value": 4},
                           "labelPadding": 5, "title": "Weight average molecular weight (Mw)", "titleAngle": -90, "titleX": -78.5, "titleY": 199, "titleAlign": "center", "titleBaseline": "alphabetic", "zindex": 1}},
            "y2": {"datum": 80000}
          }
        },
        {
          "mark": {"type": "point", "filled": true, "opacity": 0},
          "encoding": {
            "x": {"field": "hours", "type": "ordinal", "scale": {"domain": [0, 200, 400, 600, 800, 1000], "paddingInner": 0, "paddingOuter": 0}, "axis": null},
            "y": {"field": "Mw", "type": "quantitative", "scale": {"domain": [80000, 94000], "nice": false, "zero": false}, "axis": null},
            "fill": {"field": "hours", "type": "ordinal", "legend": null},
            "shape": {"field": "sample", "type": "nominal",
                      "scale": {"domain": ["PS+3% (TiO₂+3% Ag)", "PS+3% (TiO₂+3% Fe)", "PS+3% (TiO₂+3% Cu)", "PS+3% TiO₂"], "range": ["M-1,-1H5.4V1H-1Z", "M-1,-1H5.4V1H-1Z", "M-1,-1H5.4V1H-1Z", "M-1,-1H5.4V1H-1Z"]},
                      "legend": {"title": null, "orient": "none", "legendX": 178, "legendY": -29, "direction": "vertical",
                                 "fillColor": "#ffffff", "strokeColor": "#333333", "padding": 4, "zindex": 2,
                                 "labelFont": "Liberation Sans", "labelFontSize": 17.5, "labelColor": "#000000", "labelLimit": 400,
                                 "symbolSize": 196, "labelOffset": 36, "rowPadding": 1.5,
                                 "symbolOpacity": 1, "symbolStrokeColor": "#000000", "symbolStrokeWidth": 2,
                                 "symbolFillColor": {"expr": "indexof(datum.value, 'Ag') >= 0 ? lAg : indexof(datum.value, 'Fe') >= 0 ? lFe : indexof(datum.value, 'Cu') >= 0 ? lCu : lTi"}}}
          }
        },
        {
          "data": {"values": [{"panel": "A"}]},
          "mark": {"type": "text", "fontSize": 38, "fontWeight": "bold", "align": "center", "baseline": "alphabetic", "dx": 0, "color": "#000000"},
          "encoding": {
            "text": {"field": "panel"},
            "x": {"datum": 1000, "type": "ordinal", "axis": null},
            "y": {"datum": 88390, "type": "quantitative", "scale": {"domain": [80000, 94000], "nice": false, "zero": false}, "axis": null}
          }
        }
      ]
    },
    {
      "width": 419, "height": 371,
      "resolve": {"axis": {"x": "independent", "y": "independent"}},
      "layer": [
        {
          "transform": [{"filter": "indexof(datum.sample, 'Ag') >= 0"}],
          "mark": {"type": "bar", "fill": {"expr": "gAg"}},
          "encoding": {
            "x": {"field": "hours", "type": "ordinal", "scale": {"domain": [0, 200, 400, 600, 800, 1000], "paddingInner": 0, "paddingOuter": 0}, "axis": null},
            "xOffset": {"field": "sample", "type": "nominal", "scale": {"domain": ["PS+3% (TiO₂+3% Ag)", "PS+3% (TiO₂+3% Fe)", "PS+3% (TiO₂+3% Cu)", "PS+3% TiO₂"], "paddingInner": 0, "paddingOuter": 0.5}},
            "y": {"datum": 77000, "type": "quantitative", "scale": {"domain": [60000, 77000], "nice": false, "zero": false}, "axis": null},
            "y2": {"datum": 60000}
          }
        },
        {
          "transform": [{"filter": "indexof(datum.sample, 'Fe') >= 0"}],
          "mark": {"type": "bar", "fill": {"expr": "gFe"}},
          "encoding": {
            "x": {"field": "hours", "type": "ordinal", "scale": {"domain": [0, 200, 400, 600, 800, 1000], "paddingInner": 0, "paddingOuter": 0}, "axis": null},
            "xOffset": {"field": "sample", "type": "nominal", "scale": {"domain": ["PS+3% (TiO₂+3% Ag)", "PS+3% (TiO₂+3% Fe)", "PS+3% (TiO₂+3% Cu)", "PS+3% TiO₂"], "paddingInner": 0, "paddingOuter": 0.5}},
            "y": {"datum": 77000, "type": "quantitative", "scale": {"domain": [60000, 77000], "nice": false, "zero": false}, "axis": null},
            "y2": {"datum": 60000}
          }
        },
        {
          "transform": [{"filter": "indexof(datum.sample, 'Cu') >= 0"}],
          "mark": {"type": "bar", "fill": {"expr": "gCu"}},
          "encoding": {
            "x": {"field": "hours", "type": "ordinal", "scale": {"domain": [0, 200, 400, 600, 800, 1000], "paddingInner": 0, "paddingOuter": 0}, "axis": null},
            "xOffset": {"field": "sample", "type": "nominal", "scale": {"domain": ["PS+3% (TiO₂+3% Ag)", "PS+3% (TiO₂+3% Fe)", "PS+3% (TiO₂+3% Cu)", "PS+3% TiO₂"], "paddingInner": 0, "paddingOuter": 0.5}},
            "y": {"datum": 77000, "type": "quantitative", "scale": {"domain": [60000, 77000], "nice": false, "zero": false}, "axis": null},
            "y2": {"datum": 60000}
          }
        },
        {
          "transform": [{"filter": "indexof(datum.sample, 'Cu') >= 0"}],
          "mark": {"type": "bar", "fill": {"expr": "gCux"}},
          "encoding": {
            "x": {"field": "hours", "type": "ordinal", "scale": {"domain": [0, 200, 400, 600, 800, 1000], "paddingInner": 0, "paddingOuter": 0}, "axis": null},
            "xOffset": {"field": "sample", "type": "nominal", "scale": {"domain": ["PS+3% (TiO₂+3% Ag)", "PS+3% (TiO₂+3% Fe)", "PS+3% (TiO₂+3% Cu)", "PS+3% TiO₂"], "paddingInner": 0, "paddingOuter": 0.5}},
            "y": {"datum": 77000, "type": "quantitative", "scale": {"domain": [60000, 77000], "nice": false, "zero": false}, "axis": null},
            "y2": {"datum": 60000}
          }
        },
        {
          "transform": [{"filter": "indexof(datum.sample, '(') < 0"}],
          "mark": {"type": "bar", "fill": {"expr": "gTi"}},
          "encoding": {
            "x": {"field": "hours", "type": "ordinal", "scale": {"domain": [0, 200, 400, 600, 800, 1000], "paddingInner": 0, "paddingOuter": 0}, "axis": null},
            "xOffset": {"field": "sample", "type": "nominal", "scale": {"domain": ["PS+3% (TiO₂+3% Ag)", "PS+3% (TiO₂+3% Fe)", "PS+3% (TiO₂+3% Cu)", "PS+3% TiO₂"], "paddingInner": 0, "paddingOuter": 0.5}},
            "y": {"datum": 77000, "type": "quantitative", "scale": {"domain": [60000, 77000], "nice": false, "zero": false}, "axis": null},
            "y2": {"datum": 60000}
          }
        },
        {
          "mark": {"type": "bar", "fill": "#ffffff", "stroke": "#ffffff", "strokeWidth": 1},
          "encoding": {
            "x": {"field": "hours", "type": "ordinal", "scale": {"domain": [0, 200, 400, 600, 800, 1000], "paddingInner": 0, "paddingOuter": 0},
                  "axis": {"orient": "top", "labels": false, "tickSize": 5, "tickWidth": 1.5, "title": null, "zindex": 1}},
            "xOffset": {"field": "sample", "type": "nominal", "scale": {"domain": ["PS+3% (TiO₂+3% Ag)", "PS+3% (TiO₂+3% Fe)", "PS+3% (TiO₂+3% Cu)", "PS+3% TiO₂"], "paddingInner": 0, "paddingOuter": 0.5}},
            "y": {"field": "Mn", "type": "quantitative", "scale": {"domain": [60000, 77000], "nice": false, "zero": false},
                  "axis": {"orient": "right", "values": [60000, 61000, 62000, 63000, 64000, 65000, 66000, 67000, 68000, 69000, 70000, 71000, 72000, 73000, 74000, 75000, 76000, 77000], "labels": false, "tickSize": 4, "tickWidth": 1.5, "title": null, "zindex": 1}},
            "y2": {"datum": 77000}
          }
        },
        {
          "mark": {"type": "bar", "fill": "transparent", "stroke": "#000000", "strokeWidth": 2},
          "encoding": {
            "x": {"field": "hours", "type": "ordinal", "scale": {"domain": [0, 200, 400, 600, 800, 1000], "paddingInner": 0, "paddingOuter": 0},
                  "axis": {"orient": "bottom", "labelAngle": 0, "tickSize": 8, "labelPadding": 3, "title": "UV irradiation time (Hours)", "titleY": 55.7, "titleBaseline": "alphabetic", "zindex": 1}},
            "xOffset": {"field": "sample", "type": "nominal", "scale": {"domain": ["PS+3% (TiO₂+3% Ag)", "PS+3% (TiO₂+3% Fe)", "PS+3% (TiO₂+3% Cu)", "PS+3% TiO₂"], "paddingInner": 0, "paddingOuter": 0.5}},
            "y": {"field": "Mn", "type": "quantitative", "scale": {"domain": [60000, 77000], "nice": false, "zero": false},
                  "axis": {"orient": "left", "values": [60000, 61000, 62000, 63000, 64000, 65000, 66000, 67000, 68000, 69000, 70000, 71000, 72000, 73000, 74000, 75000, 76000, 77000], "format": "d",
                           "labelExpr": "datum.value % 2000 === 0 ? datum.label : ''",
                           "tickSize": {"condition": {"test": "datum.value % 2000 === 0", "value": 8}, "value": 4},
                           "labelPadding": 5, "title": "Number average molecular weight (Mn)", "titleAngle": -90, "titleX": -78.5, "titleY": 201, "titleAlign": "center", "titleBaseline": "alphabetic", "zindex": 1}},
            "y2": {"datum": 60000}
          }
        },
        {
          "mark": {"type": "point", "filled": true, "opacity": 0},
          "encoding": {
            "x": {"field": "hours", "type": "ordinal", "scale": {"domain": [0, 200, 400, 600, 800, 1000], "paddingInner": 0, "paddingOuter": 0}, "axis": null},
            "y": {"field": "Mn", "type": "quantitative", "scale": {"domain": [60000, 77000], "nice": false, "zero": false}, "axis": null},
            "fill": {"field": "hours", "type": "ordinal", "legend": null},
            "shape": {"field": "sample", "type": "nominal",
                      "scale": {"domain": ["PS+3% (TiO₂+3% Ag)", "PS+3% (TiO₂+3% Fe)", "PS+3% (TiO₂+3% Cu)", "PS+3% TiO₂"], "range": ["M-1,-1H5.4V1H-1Z", "M-1,-1H5.4V1H-1Z", "M-1,-1H5.4V1H-1Z", "M-1,-1H5.4V1H-1Z"]},
                      "legend": {"title": null, "orient": "none", "legendX": 179, "legendY": -28, "direction": "vertical",
                                 "fillColor": "#ffffff", "strokeColor": "#333333", "padding": 4, "zindex": 2,
                                 "labelFont": "Liberation Sans", "labelFontSize": 17.5, "labelColor": "#000000", "labelLimit": 400,
                                 "symbolSize": 196, "labelOffset": 36, "rowPadding": 1.5,
                                 "symbolOpacity": 1, "symbolStrokeColor": "#000000", "symbolStrokeWidth": 2,
                                 "symbolFillColor": {"expr": "indexof(datum.value, 'Ag') >= 0 ? lAg : indexof(datum.value, 'Fe') >= 0 ? lFe : indexof(datum.value, 'Cu') >= 0 ? lCu : lTi"}}}
          }
        },
        {
          "data": {"values": [{"panel": "B"}]},
          "mark": {"type": "text", "fontSize": 38, "fontWeight": "bold", "align": "center", "baseline": "alphabetic", "dx": 5, "color": "#000000"},
          "encoding": {
            "text": {"field": "panel"},
            "x": {"datum": 1000, "type": "ordinal", "axis": null},
            "y": {"datum": 70197, "type": "quantitative", "scale": {"domain": [60000, 77000], "nice": false, "zero": false}, "axis": null}
          }
        }
      ]
    }
  ]
}
